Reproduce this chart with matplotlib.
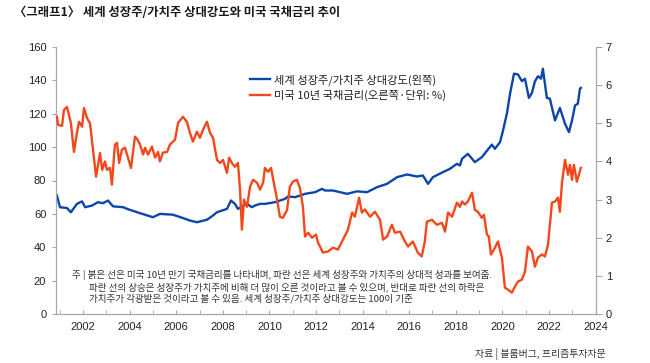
import matplotlib
matplotlib.use('Agg')
import matplotlib.pyplot as plt
from matplotlib.lines import Line2D

# 세계 성장주/가치주 상대강도 (left axis)
blue_years = [2000.88, 2001.01, 2001.31, 2001.48, 2001.74, 2001.96, 2002.09, 2002.39, 2002.64, 2002.86,
              2003.07, 2003.29, 2003.72, 2003.93, 2004.45, 2005.00, 2005.30, 2005.86, 2006.29, 2006.59,
              2006.89, 2007.32, 2007.54, 2007.75, 2007.97, 2008.18, 2008.35, 2008.52, 2008.65, 2008.87,
              2009.04, 2009.25, 2009.38, 2009.60, 2009.81, 2010.24, 2010.67, 2010.80, 2011.10, 2011.53,
              2011.96, 2012.26, 2012.39, 2012.73, 2013.33, 2013.76, 2014.19, 2014.62, 2015.05, 2015.48,
              2015.91, 2016.33, 2016.59, 2016.81, 2017.02, 2017.45, 2017.75, 2018.05, 2018.18, 2018.27,
              2018.52, 2018.82, 2019.12, 2019.55, 2019.68, 2019.90, 2020.03, 2020.20, 2020.33, 2020.50,
              2020.67, 2020.84, 2020.97, 2021.14, 2021.27, 2021.40, 2021.53, 2021.66, 2021.74, 2021.91,
              2022.04, 2022.26, 2022.47, 2022.69, 2022.86, 2022.99, 2023.12, 2023.24, 2023.33, 2023.37]
blue_values = [71, 64, 63.5, 61, 66, 67.5, 64, 65, 67, 66.4,
               68, 64.5, 64, 62.8, 60.4, 58, 60, 59.5, 57.5, 56,
               55, 56.5, 58.6, 61, 62, 63, 68, 66, 63, 64.6,
               66, 64, 65, 66, 66, 67, 69, 70.5, 70, 72,
               73, 75, 74, 74, 72, 73.5, 73, 76, 78, 82,
               83.6, 82.4, 83, 78, 82, 85, 87, 90, 89, 93,
               96, 91, 94, 101.5, 99, 103, 110, 120.5, 132, 144,
               143.6, 139.5, 141, 129.5, 132.5, 139.5, 142.5, 141, 147, 129.5,
               129, 116, 123.5, 114, 109, 116, 125, 126, 135, 135.5]

# 미국 10년 국채금리 (right axis, %)
red_years = [2000.88, 2000.93, 2001.10, 2001.18, 2001.31, 2001.48, 2001.61, 2001.74, 2001.83, 2001.96,
             2002.04, 2002.17, 2002.30, 2002.56, 2002.73, 2002.82, 2002.94, 2003.03, 2003.16, 2003.24,
             2003.37, 2003.46, 2003.55, 2003.67, 2003.80, 2003.93, 2004.06, 2004.23, 2004.32, 2004.45,
             2004.58, 2004.66, 2004.79, 2004.96, 2005.09, 2005.22, 2005.30, 2005.43, 2005.61, 2005.73,
             2005.95, 2006.08, 2006.29, 2006.46, 2006.59, 2006.72, 2006.89, 2007.02, 2007.15, 2007.32,
             2007.45, 2007.58, 2007.75, 2007.88, 2008.01, 2008.18, 2008.27, 2008.39, 2008.52, 2008.65,
             2008.74, 2008.82, 2008.91, 2009.04, 2009.17, 2009.30, 2009.47, 2009.60, 2009.73, 2009.81,
             2009.94, 2010.07, 2010.15, 2010.33, 2010.45, 2010.58, 2010.76, 2010.88, 2011.01, 2011.18,
             2011.31, 2011.44, 2011.53, 2011.66, 2011.83, 2012.00, 2012.09, 2012.30, 2012.52, 2012.73,
             2012.94, 2013.16, 2013.37, 2013.55, 2013.67, 2013.85, 2013.97, 2014.10, 2014.32, 2014.53,
             2014.75, 2014.88, 2015.05, 2015.26, 2015.39, 2015.61, 2015.82, 2015.95, 2016.16, 2016.37,
             2016.54, 2016.67, 2016.76, 2016.98, 2017.19, 2017.41, 2017.54, 2017.67, 2017.84, 2018.05,
             2018.18, 2018.27, 2018.39, 2018.52, 2018.70, 2018.82, 2018.95, 2019.12, 2019.21, 2019.34,
             2019.42, 2019.51, 2019.64, 2019.81, 2019.98, 2020.11, 2020.24, 2020.41, 2020.54, 2020.67,
             2020.84, 2020.97, 2021.10, 2021.27, 2021.40, 2021.53, 2021.70, 2021.83, 2021.96, 2022.13,
             2022.26, 2022.39, 2022.47, 2022.56, 2022.69, 2022.82, 2022.90, 2022.99, 2023.07, 2023.20,
             2023.37]
red_values = [5.17, 4.96, 4.93, 5.35, 5.43, 5.01, 4.25, 4.75, 5.04, 4.91,
              5.40, 5.14, 5.00, 3.60, 4.22, 3.78, 4.00, 3.78, 3.83, 3.39,
              4.44, 4.49, 3.96, 4.31, 4.36, 4.10, 3.83, 4.65, 4.59, 4.44,
              4.18, 4.36, 4.18, 4.39, 4.10, 4.25, 4.00, 4.23, 4.25, 4.44,
              4.57, 5.01, 5.17, 5.04, 4.75, 4.52, 4.78, 4.62, 4.83, 5.04,
              4.75, 4.62, 4.04, 3.96, 4.04, 3.70, 4.10, 3.96, 3.86, 3.96,
              3.26, 2.21, 3.00, 2.81, 3.34, 3.52, 3.44, 3.26, 3.44, 3.83,
              3.73, 3.83, 3.57, 3.00, 2.55, 2.52, 2.73, 3.34, 3.47, 3.52,
              3.31, 2.81, 2.03, 2.13, 2.00, 2.08, 1.87, 1.61, 1.64, 1.74,
              1.69, 1.95, 2.21, 2.66, 2.55, 3.05, 2.66, 2.74, 2.55, 2.68,
              2.47, 1.95, 2.03, 2.34, 2.13, 2.16, 1.90, 1.77, 1.90, 1.61,
              1.51, 1.90, 2.42, 2.47, 2.34, 2.39, 2.16, 2.66, 2.55, 2.92,
              2.81, 2.95, 2.87, 2.95, 3.18, 2.73, 2.68, 2.52, 2.60, 2.08,
              2.03, 1.56, 1.69, 1.90, 1.48, 0.69, 0.64, 0.56, 0.72, 0.85,
              0.90, 1.11, 1.77, 1.64, 1.24, 1.48, 1.56, 1.51, 1.82, 2.92,
              2.95, 3.05, 2.68, 3.44, 4.04, 3.65, 3.91, 3.52, 3.91, 3.47,
              3.83]

x_ticks = list(range(2002, 2025, 2))
left_ticks = list(range(0, 161, 20))
right_ticks = list(range(0, 8))

title = '〈그래프1〉 세계 성장주/가치주 상대강도와 미국 국채금리 추이'
blue_label = '세계 성장주/가치주 상대강도(왼쪽)'
red_label = '미국 10년 국채금리(오른쪽·단위: %)'
note_lines = ['주 | 붉은 선은 미국 10년 만기 국채금리를 나타내며, 파란 선은 세계 성장주와 가치주의 상대적 성과를 보여줌.',
              '파란 선의 상승은 성장주가 가치주에 비해 더 많이 오른 것이라고 볼 수 있으며, 반대로 파란 선의 하락은',
              '가치주가 각광받은 것이라고 볼 수 있음. 세계 성장주/가치주 상대강도는 100이 기준']
source = '자료 | 블룸버그, 프리즘투자자문'

BLUE = '#0c46a6'
RED = '#f2481c'
GRAY = '#a8a8a8'
KR = ['Noto Sans CJK KR', 'DejaVu Sans']
NUM = ['Liberation Sans', 'DejaVu Sans']

W, H = 650, 363
fig = plt.figure(figsize=(W / 100, H / 100), dpi=100)
ax = fig.add_axes([56 / W, 1 - 314 / H, 540 / W, 267 / H])
ax2 = ax.twinx()

ax.plot(blue_years, blue_values, color=BLUE, lw=1.7, solid_joinstyle='round', zorder=2)
ax2.plot(red_years, red_values, color=RED, lw=1.7, solid_joinstyle='round', zorder=3)

ax.set_xlim(2000.84, 2024.02)
ax.set_ylim(0, 160)
ax2.set_ylim(0, 7)
ax.set_xticks(x_ticks)
ax.set_xticks(range(2001, 2025), minor=True)
ax.set_yticks(left_ticks)
ax2.set_yticks(right_ticks)

for a in (ax, ax2):
    a.spines['top'].set_visible(False)
    for s in ('left', 'right', 'bottom'):
        a.spines[s].set_color(GRAY)
        a.spines[s].set_linewidth(0.9)
ax.spines['right'].set_visible(False)
ax2.spines['left'].set_visible(False)
ax2.spines['bottom'].set_visible(False)

ax.tick_params(axis='y', direction='out', length=3, color=GRAY, labelsize=8, labelcolor='#222', pad=4)
ax2.tick_params(axis='y', direction='out', length=4, color=GRAY, labelsize=8, labelcolor='#222', pad=3)
ax.tick_params(axis='x', which='both', direction='in', length=3, color=GRAY, labelsize=8, labelcolor='#222', pad=6)
for lab in ax.get_xticklabels() + ax.get_yticklabels() + ax2.get_yticklabels():
    lab.set_family(NUM)

handles = [Line2D([], [], color=BLUE, lw=1.7), Line2D([], [], color=RED, lw=1.7)]
fig.legend(handles, [blue_label, red_label], loc='upper left',
           bbox_to_anchor=(250 / W, 1 - 74 / H), frameon=False, borderpad=0,
           borderaxespad=0, handlelength=1.8, handletextpad=0.3, labelspacing=0.4,
           prop={'family': KR, 'size': 8.1}, labelcolor='#222')

fig.text(14 / W, 1 - 13 / H, title, family=KR, fontsize=8.9, fontweight='bold',
         color='#1a1a1a', va='center', ha='left')

note_pos = [(72, 275), (89, 287), (89, 299)]
for (px, py), line in zip(note_pos, note_lines):
    fig.text(px / W, 1 - py / H, line, family=KR, fontsize=6.9, color='#333',
             va='center', ha='left')

fig.text(606 / W, 1 - 354 / H, source, family=KR, fontsize=7.1, color='#333',
         va='center', ha='right')

fig.savefig('out.png', dpi=100)
